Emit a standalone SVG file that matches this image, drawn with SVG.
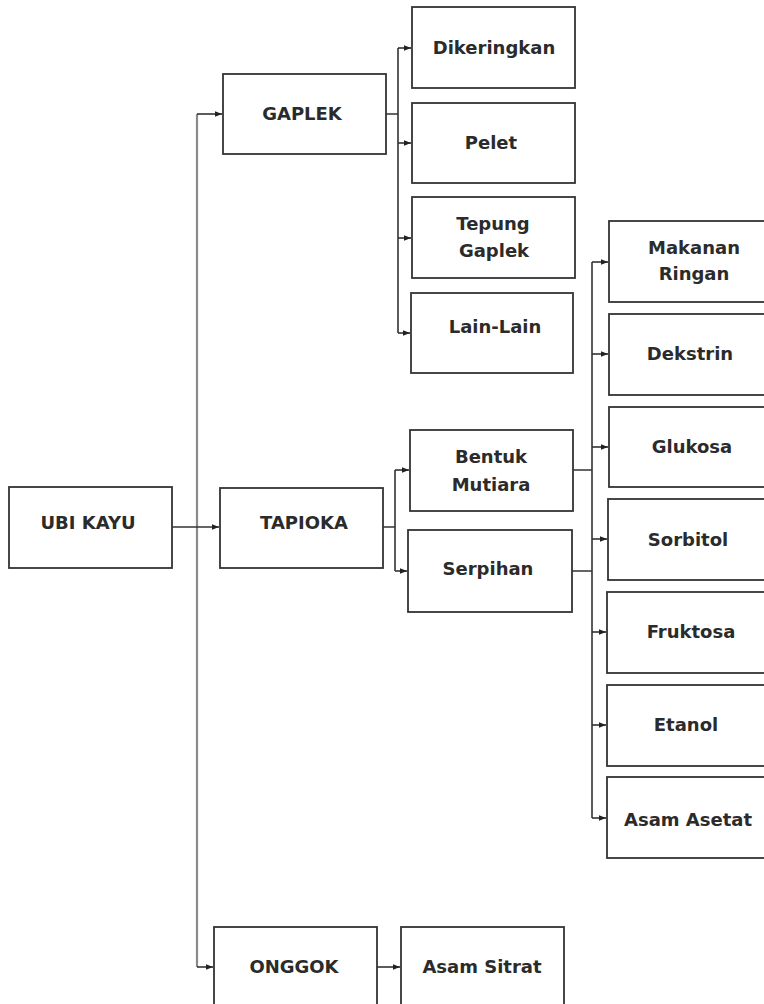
<svg xmlns="http://www.w3.org/2000/svg" width="764" height="1004" viewBox="0 0 764 1004">
<defs>
<style>
.box{fill:#fff;stroke:#333;stroke-width:1.8}
.t{font-family:"DejaVu Sans",sans-serif;font-weight:bold;font-size:18px;fill:#2b2b2b;text-anchor:middle}
.c{fill:none;stroke:#333;stroke-width:1.6}
.trunk{fill:none;stroke:#8a8a8a;stroke-width:2.2}
</style>
<marker id="ah" viewBox="0 0 10 10" refX="10" refY="5" markerWidth="7" markerHeight="7" markerUnits="userSpaceOnUse" orient="auto">
<path d="M0,1 L10,5 L0,9 Z" fill="#222"/>
</marker>
</defs>
<rect width="764" height="1004" fill="#fff"/>
<g id="connectors">
<path class="trunk" d="M197,114 V967"/>
<path class="c" d="M197,114 H222" marker-end="url(#ah)"/>
<path class="c" d="M172,527 H219" marker-end="url(#ah)"/>
<path class="c" d="M197,967 H213" marker-end="url(#ah)"/>
<path class="c" d="M386,114 H398 M398,48 V333"/>
<path class="c" d="M398,48 H411" marker-end="url(#ah)"/>
<path class="c" d="M398,143 H411" marker-end="url(#ah)"/>
<path class="c" d="M398,238 H411" marker-end="url(#ah)"/>
<path class="c" d="M398,333 H410" marker-end="url(#ah)"/>
<path class="c" d="M383,527 H395 M395,470 V571"/>
<path class="c" d="M395,470 H409" marker-end="url(#ah)"/>
<path class="c" d="M395,571 H407" marker-end="url(#ah)"/>
<path class="c" d="M573,470 H592 M572,571 H592 M592,262 V818"/>
<path class="c" d="M592,262 H608" marker-end="url(#ah)"/>
<path class="c" d="M592,354 H608" marker-end="url(#ah)"/>
<path class="c" d="M592,447 H608" marker-end="url(#ah)"/>
<path class="c" d="M592,539 H607" marker-end="url(#ah)"/>
<path class="c" d="M592,632 H606" marker-end="url(#ah)"/>
<path class="c" d="M592,725 H606" marker-end="url(#ah)"/>
<path class="c" d="M592,818 H606" marker-end="url(#ah)"/>
<path class="c" d="M377,967 H400" marker-end="url(#ah)"/>
</g>
<g id="ubikayu"><rect class="box" x="9" y="487" width="163" height="81"/><text class="t" x="88" y="529">UBI KAYU</text></g>
<g id="gaplek"><rect class="box" x="223" y="74" width="163" height="80"/><text class="t" x="302" y="120">GAPLEK</text></g>
<g id="tapioka"><rect class="box" x="220" y="488" width="163" height="80"/><text class="t" x="304" y="529">TAPIOKA</text></g>
<g id="onggok"><rect class="box" x="214" y="927" width="163" height="100"/><text class="t" x="294" y="973">ONGGOK</text></g>
<g id="dikeringkan"><rect class="box" x="412" y="7" width="163" height="81"/><text class="t" x="494" y="54">Dikeringkan</text></g>
<g id="pelet"><rect class="box" x="412" y="103" width="163" height="80"/><text class="t" x="491" y="149">Pelet</text></g>
<g id="tepunggaplek"><rect class="box" x="412" y="197" width="163" height="81"/><text class="t" x="493" y="230">Tepung</text><text class="t" x="494" y="257">Gaplek</text></g>
<g id="lainlain"><rect class="box" x="411" y="293" width="162" height="80"/><text class="t" x="495" y="333">Lain-Lain</text></g>
<g id="bentukmutiara"><rect class="box" x="410" y="430" width="163" height="81"/><text class="t" x="491" y="463">Bentuk</text><text class="t" x="491" y="491">Mutiara</text></g>
<g id="serpihan"><rect class="box" x="408" y="530" width="164" height="82"/><text class="t" x="488" y="575">Serpihan</text></g>
<g id="asamsitrat"><rect class="box" x="401" y="927" width="163" height="100"/><text class="t" x="482" y="973">Asam Sitrat</text></g>
<g id="makananringan"><rect class="box" x="609" y="221" width="163" height="81"/><text class="t" x="694" y="254">Makanan</text><text class="t" x="694" y="280">Ringan</text></g>
<g id="dekstrin"><rect class="box" x="609" y="314" width="163" height="81"/><text class="t" x="690" y="360">Dekstrin</text></g>
<g id="glukosa"><rect class="box" x="609" y="407" width="163" height="80"/><text class="t" x="692" y="453">Glukosa</text></g>
<g id="sorbitol"><rect class="box" x="608" y="499" width="163" height="81"/><text class="t" x="688" y="546">Sorbitol</text></g>
<g id="fruktosa"><rect class="box" x="607" y="592" width="163" height="81"/><text class="t" x="691" y="638">Fruktosa</text></g>
<g id="etanol"><rect class="box" x="607" y="685" width="163" height="81"/><text class="t" x="686" y="731">Etanol</text></g>
<g id="asamasetat"><rect class="box" x="607" y="777" width="163" height="81"/><text class="t" x="688" y="826">Asam Asetat</text></g>
</svg>
